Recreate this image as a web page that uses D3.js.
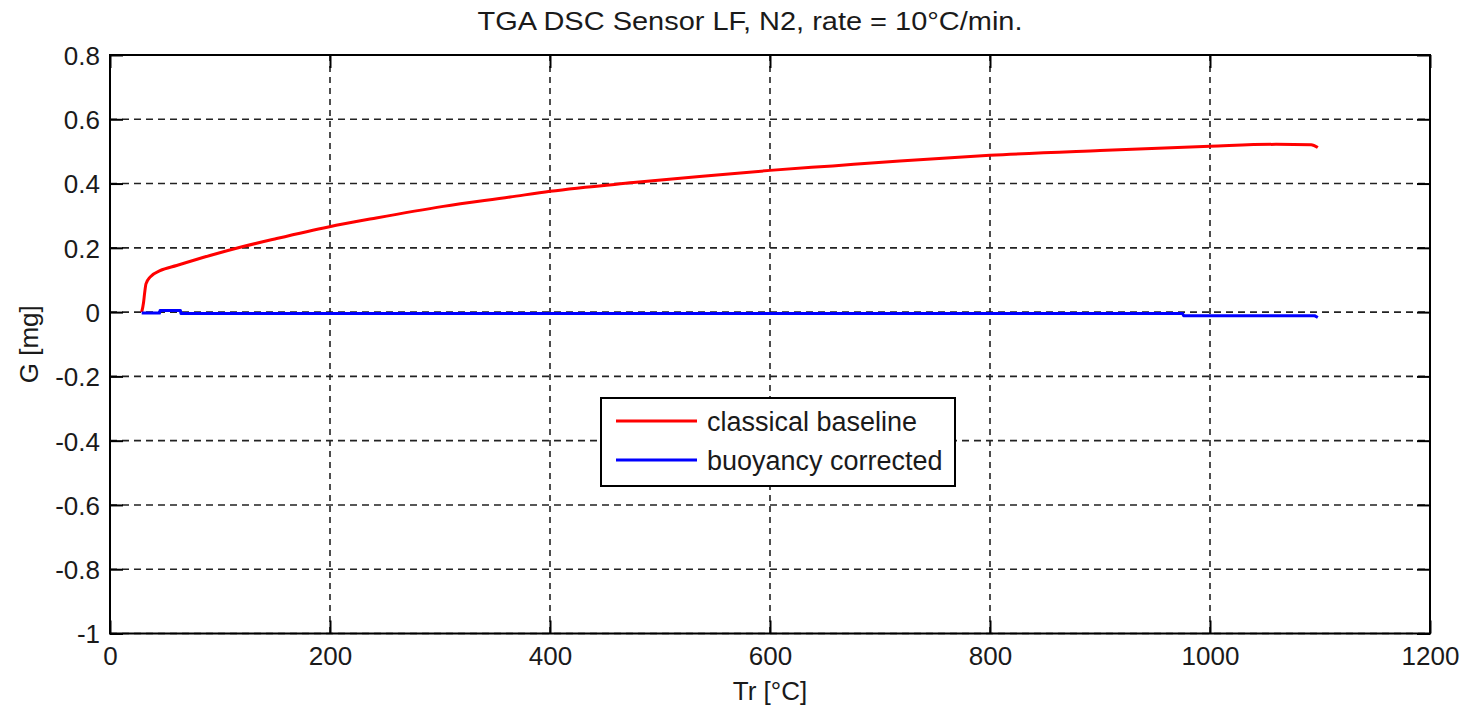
<!DOCTYPE html>
<html>
<head>
<meta charset="utf-8">
<script src="https://cdn.jsdelivr.net/npm/d3@7"></script>
<style>
  html, body { margin: 0; padding: 0; background: #fff; }
  svg { display: block; font-family: Arial, "Liberation Sans", sans-serif; }
</style>
</head>
<body>
<svg id="chart" width="1464" height="709"></svg>
<script>
// Temperature axis (°C) and mass signal (mg)
const xTicks = [0, 200, 400, 600, 800, 1000, 1200];
const yTicks = [-1, -0.8, -0.6, -0.4, -0.2, 0, 0.2, 0.4, 0.6, 0.8];

// Classical baseline curve
const classicalT = [28.8, 30.5, 31.5, 32.7, 36.4, 45.5, 60.6, 90.9, 121, 151.5, 198.5, 242, 303, 363.6, 400, 475.8, 536, 600, 657, 718, 800, 900, 1000, 1060, 1092, 1098];
const classicalG = [0.0, 0.03, 0.06, 0.088, 0.109, 0.129, 0.145, 0.176, 0.204, 0.229, 0.265, 0.293, 0.329, 0.358, 0.376, 0.403, 0.422, 0.441, 0.455, 0.470, 0.488, 0.503, 0.516, 0.522, 0.521, 0.512];

// Buoyancy-corrected curve
const correctedT = [28.8, 45, 45.5, 64, 64.5, 975, 976, 1095, 1098];
const correctedG = [-0.003, -0.003, 0.005, 0.005, -0.004, -0.004, -0.011, -0.011, -0.017];

const seriesNames = ["classical baseline", "buoyancy corrected"];
const seriesColors = ["#ff0000", "#0000ff"];

const svg = d3.select("#chart");
const m = { left: 110, right: 1430, top: 55, bottom: 633.5 };

const x = d3.scaleLinear().domain([0, 1200]).range([m.left, m.right]);
const y = d3.scaleLinear().domain([-1, 0.8]).range([m.bottom, m.top]);

const fmt = v => String(+v.toFixed(1));

// dashed grid
const grid = svg.append("g");
grid.selectAll("line.gx").data(xTicks).join("line")
  .attr("x1", d => x(d)).attr("x2", d => x(d))
  .attr("y1", m.top).attr("y2", m.bottom)
  .attr("stroke", "#222").attr("stroke-width", 1.6).attr("stroke-dasharray", "6,5");
grid.selectAll("line.gy").data(yTicks).join("line")
  .attr("y1", d => y(d)).attr("y2", d => y(d))
  .attr("x1", m.left).attr("x2", m.right)
  .attr("stroke", "#222").attr("stroke-width", 1.6).attr("stroke-dasharray", "7,5");

// axes with inward ticks on all four sides
const tickLen = 13;
function styleAxis(g, showLabels) {
  g.select(".domain").remove();
  g.selectAll(".tick line").attr("stroke", "#000").attr("stroke-width", 2);
  g.selectAll(".tick text").attr("fill", "#1a1a1a").attr("font-size", 26)
    .style("display", showLabels ? null : "none");
}
svg.append("g").attr("transform", `translate(0,${m.bottom})`)
  .call(d3.axisBottom(x).tickValues(xTicks).tickFormat(fmt).tickSizeInner(-tickLen).tickSizeOuter(0))
  .call(g => styleAxis(g, true))
  .call(g => g.selectAll(".tick text").attr("dy", "0.72em").attr("y", 13));
svg.append("g").attr("transform", `translate(0,${m.top})`)
  .call(d3.axisTop(x).tickValues(xTicks).tickSizeInner(-tickLen).tickSizeOuter(0))
  .call(g => styleAxis(g, false));
svg.append("g").attr("transform", `translate(${m.left},0)`)
  .call(d3.axisLeft(y).tickValues(yTicks).tickFormat(fmt).tickSizeInner(-tickLen).tickSizeOuter(0))
  .call(g => styleAxis(g, true))
  .call(g => g.selectAll(".tick text").attr("x", -10).attr("dy", "0.36em"));
svg.append("g").attr("transform", `translate(${m.right},0)`)
  .call(d3.axisRight(y).tickValues(yTicks).tickSizeInner(-tickLen).tickSizeOuter(0))
  .call(g => styleAxis(g, false));

// frame
svg.append("rect")
  .attr("x", m.left).attr("y", m.top)
  .attr("width", m.right - m.left).attr("height", m.bottom - m.top)
  .attr("fill", "none").attr("stroke", "#000").attr("stroke-width", 2);

// curves
const smoothLine = d3.line().x(d => x(d[0])).y(d => y(d[1])).curve(d3.curveMonotoneX);
const stepLine = d3.line().x(d => x(d[0])).y(d => y(d[1]));
const series = [
  d3.zip(classicalT, classicalG),
  d3.zip(correctedT, correctedG)
];
svg.append("g").selectAll("path").data(series).join("path")
  .attr("d", (d, i) => (i === 0 ? smoothLine : stepLine)(d))
  .attr("fill", "none")
  .attr("stroke", (d, i) => seriesColors[i])
  .attr("stroke-width", 3)
  .attr("stroke-linejoin", "round");

// title and axis labels
svg.append("text")
  .attr("x", 750).attr("y", 30)
  .attr("text-anchor", "middle").attr("font-size", 26).attr("fill", "#1a1a1a")
  .attr("textLength", 545).attr("lengthAdjust", "spacingAndGlyphs")
  .text("TGA DSC Sensor LF, N2, rate = 10°C/min.");
svg.append("text")
  .attr("x", (m.left + m.right) / 2).attr("y", 700)
  .attr("text-anchor", "middle").attr("font-size", 26).attr("fill", "#1a1a1a")
  .text("Tr [°C]");
svg.append("text")
  .attr("transform", `translate(38,${(m.top + m.bottom) / 2}) rotate(-90)`)
  .attr("text-anchor", "middle").attr("font-size", 26).attr("fill", "#1a1a1a")
  .text("G [mg]");

// legend
const lg = svg.append("g");
lg.append("rect")
  .attr("x", 601).attr("y", 398).attr("width", 354).attr("height", 88)
  .attr("fill", "#fff").attr("stroke", "#000").attr("stroke-width", 2);
const rows = lg.selectAll("g.row").data(seriesNames).join("g")
  .attr("transform", (d, i) => `translate(0,${421 + i * 39})`);
rows.append("line")
  .attr("x1", 616).attr("x2", 697).attr("y1", 0).attr("y2", 0)
  .attr("stroke", (d, i) => seriesColors[i]).attr("stroke-width", 3);
rows.append("text")
  .attr("x", 707).attr("y", 0).attr("dy", "0.36em")
  .attr("font-size", 27).attr("fill", "#1a1a1a")
  .text(d => d);
</script>
</body>
</html>
